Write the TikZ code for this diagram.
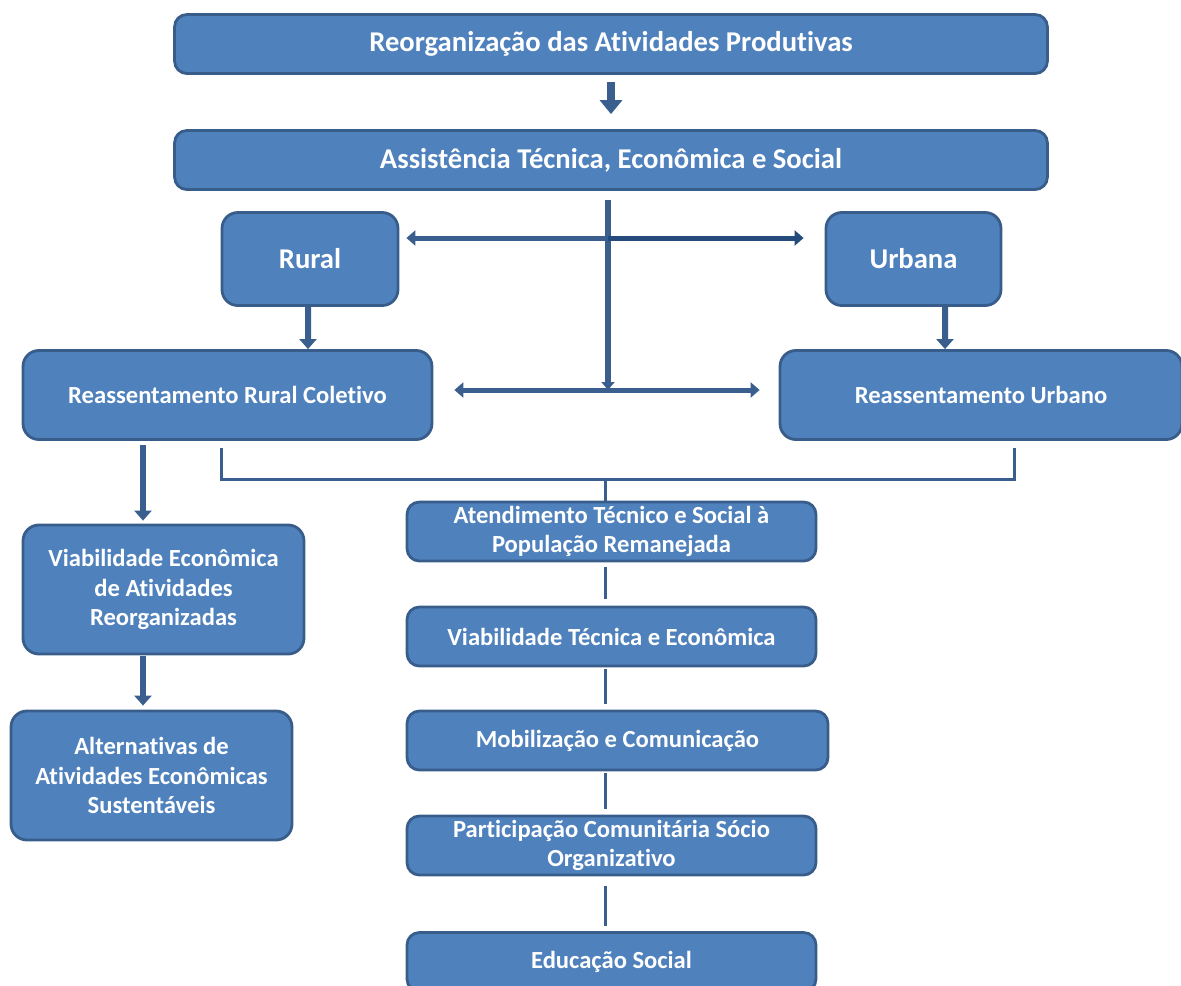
\documentclass[tikz,border=0pt]{standalone}
\usepackage{fontspec}
\setmainfont{Carlito}[Ligatures=NoCommon]
\usetikzlibrary{
	arrows.meta,
	calc,
	positioning
}
\definecolor{boxfill}{HTML}{4F81BD}
\definecolor{boxedge}{HTML}{385D8A}
\definecolor{linkblue}{HTML}{3A5F8E}
\definecolor{linkdark}{HTML}{254A7C}
\newcommand{\fcbig}{\fontsize{16.3}{19}\selectfont\bfseries}
\newcommand{\fcsmall}{\fontsize{14}{17}\selectfont\bfseries}
\tikzset{
	FC-Node/.style={rectangle,draw=boxedge,fill=boxfill,line width=1.6pt,align=center,text=white,rounded corners=7pt,inner sep=0pt},
	FC-Arrow/.style={-{Triangle[width=0.34cm,length=0.2cm]},line width=0.12cm,draw=linkblue},
	FC-Side/.style={-{Triangle[width=0.3cm,length=0.18cm]},line width=0.1cm,draw=linkblue},
	FC-Double/.style={{Triangle[width=0.3cm,length=0.18cm]}-{Triangle[width=0.3cm,length=0.18cm]},line width=0.1cm,draw=linkblue},
	FC-Line/.style={line width=0.06cm,draw=linkblue}
}

\begin{document}
\begin{tikzpicture}[x=0.02cm,y=-0.02cm]
	\useasboundingbox (0,0) rectangle (1181,985);
	% top row
	\node [FC-Node,minimum width=17.46cm,minimum height=1.18cm,font=\fcbig] (node_top) at (611,44) {Reorganização das Atividades Produtivas};
	\node [FC-Node,minimum width=17.46cm,minimum height=1.18cm,font=\fcbig] (node_assist) at (611,160) {Assistência Técnica, Econômica e Social};
	\node [FC-Node,minimum width=3.52cm,minimum height=1.86cm,rounded corners=9pt,font=\fcbig] (node_rural) at (310,259) {Rural};
	\node [FC-Node,minimum width=3.5cm,minimum height=1.86cm,rounded corners=9pt,font=\fcbig] (node_urbana) at (913.5,259) {Urbana};
	\node [FC-Node,minimum width=8.18cm,minimum height=1.78cm,rounded corners=9pt,font=\fcsmall] (node_rrc) at (227.5,395) {Reassentamento Rural Coletivo};
	\node [FC-Node,minimum width=8.04cm,minimum height=1.78cm,rounded corners=9pt,font=\fcsmall] (node_ru) at (981,395) {Reassentamento Urbano};
	% left column
	\node [FC-Node,minimum width=5.62cm,minimum height=2.58cm,rounded corners=9pt,font=\fcsmall] (node_viab) at (163.5,589.5) {Viabilidade Econômica\\de Atividades\\Reorganizadas};
	\node [FC-Node,minimum width=5.62cm,minimum height=2.58cm,rounded corners=9pt,font=\fcsmall] (node_alt) at (151.5,775.5) {Alternativas de\\Atividades Econômicas\\Sustentáveis};
	% central column
	\node [FC-Node,minimum width=8.18cm,minimum height=1.18cm,font=\fcsmall] (node_aten) at (611.5,531.5) {Atendimento Técnico e Social à\\População Remanejada};
	\node [FC-Node,minimum width=8.18cm,minimum height=1.18cm,font=\fcsmall] (node_vtec) at (611.5,636.5) {Viabilidade Técnica e Econômica};
	\node [FC-Node,minimum width=8.42cm,minimum height=1.18cm,font=\fcsmall] (node_mob) at (617.5,740.5) {Mobilização e Comunicação};
	\node [FC-Node,minimum width=8.18cm,minimum height=1.18cm,font=\fcsmall] (node_part) at (611.5,845.5) {Participação Comunitária Sócio\\Organizativo};
	\node [FC-Node,minimum width=8.18cm,minimum height=1.18cm,font=\fcsmall] (node_edu) at (611.5,962) {Educação Social};
	\coordinate (spine) at (605,0);
	\coordinate (hub) at (608,390);
	\coordinate (fork) at (608,238);
	% arrows
	\draw [FC-Arrow,line width=0.16cm,-{Triangle[width=0.44cm,length=0.28cm]},shorten <=0.14cm,shorten >=0.3cm] (node_top) -- (node_assist);
	\draw [FC-Line,line width=0.12cm,-{Triangle[width=0.26cm,length=0.16cm]}] ($(node_assist.south)+(-3,9)$) -- (hub);
	\draw [FC-Side,shorten >=0.14cm] (fork) -- (fork -| node_rural.east);
	\draw [FC-Side,draw=linkdark,shorten >=0.42cm] (fork) -- (fork -| node_urbana.west);
	\draw [FC-Double,shorten <=0.42cm,shorten >=0.38cm] ($(node_rrc.east)+(0,-5)$) -- ($(node_ru.west)+(0,-5)$);
	\draw [FC-Arrow] ($(node_rural.south)+(-2,0)$) -- ($(node_rrc.north)+(80.5,0)$);
	\draw [FC-Arrow] ($(node_urbana.south)+(31.5,0)$) -- ($(node_ru.north)+(-36,0)$);
	\draw [FC-Arrow] ($(node_rrc.south)+(-84.5,4)$) -- ($(node_viab.north)+(-20.5,-3)$);
	\draw [FC-Arrow] ($(node_viab.south)+(-20.5,1)$) -- ($(node_alt.north)+(-8.5,-4)$);
	% bracket under the resettlements
	\draw [FC-Line] ($(node_rrc.south)+(-6.5,7)$) |- ($(node_ru.south)+(33,39)$) coordinate (bracket_r) -- ++(0,-32);
	% central chain
	\draw [FC-Line] (spine |- bracket_r) -- (spine |- node_aten.north);
	\draw [FC-Line,shorten <=0.1cm,shorten >=0.14cm] (spine |- node_aten.south) -- (spine |- node_vtec.north);
	\draw [FC-Line,shorten <=0.04cm,shorten >=0.12cm] (spine |- node_vtec.south) -- (spine |- node_mob.north);
	\draw [FC-Line,shorten <=0.04cm,shorten >=0.12cm] (spine |- node_mob.south) -- (spine |- node_part.north);
	\draw [FC-Line,shorten <=0.2cm,shorten >=0.1cm] (spine |- node_part.south) -- (spine |- node_edu.north);
\end{tikzpicture}
\end{document}
